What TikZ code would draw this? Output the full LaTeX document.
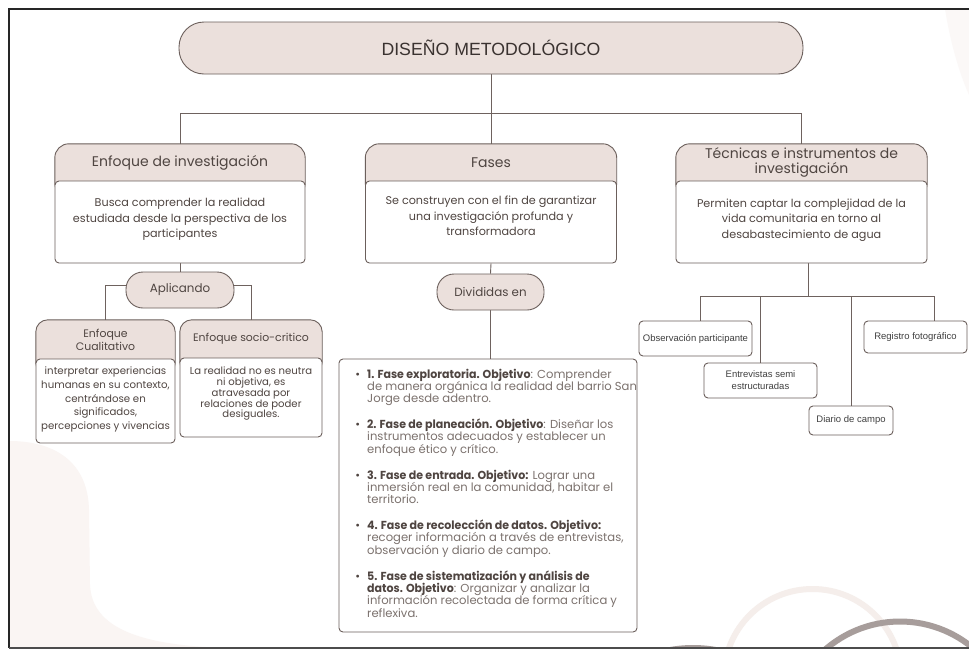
\documentclass[tikz,border=0pt]{standalone}
\usepackage{fontspec}
\setmainfont{Poppins}[BoldFeatures={FakeStretch=0.95}]
\newfontfamily\arialf{Liberation Sans}
\usetikzlibrary{backgrounds}
\definecolor{hdrfill}{HTML}{EBE0DC}
\definecolor{linec}{HTML}{6E625E}
\definecolor{boxc}{HTML}{6B5F5B}
\definecolor{txt}{HTML}{4F4541}
\definecolor{txtlight}{HTML}{7C726E}
\definecolor{titlec}{HTML}{3A3230}
\definecolor{blobc}{HTML}{FAF5F3}
\definecolor{arclight}{HTML}{F5EEEB}
\definecolor{arcdark}{HTML}{A79D9B}
\newcommand\hdrf{\fontsize{14}{15}\selectfont}
\newcommand\bodyf{\fontsize{11.2}{15.5}\selectfont}
\newcommand\pillf{\fontsize{11.9}{13}\selectfont}
\newcommand\shdrf{\fontsize{10.9}{12.8}\selectfont}
\newcommand\sbodyf{\fontsize{10.2}{13.75}\selectfont}
\newcommand\sbodyfb{\fontsize{10.1}{10.75}\selectfont}
\newcommand\bo[1]{{\bfseries\color{txt}#1}}
\begin{document}
\begin{tikzpicture}[x=1pt,y=-1pt,
  conn/.style={draw=linec, line width=0.9pt},
  hbox/.style={inner sep=0pt, text=txt, align=center, font=\hdrf},
  bodybox/.style={draw=boxc, fill=white, line width=0.9pt, rounded corners=4pt, inner sep=0pt},
  cardshape/.style={draw=boxc, fill=hdrfill, line width=0.9pt},
  btext/.style={inner sep=0pt, text=txt, align=center, font=\bodyf},
  pill/.style={draw=boxc, fill=hdrfill, line width=0.9pt, rounded corners=17pt, inner sep=0pt, text=txt, font=\pillf},
  smallbox/.style={draw=boxc, fill=white, line width=0.9pt, rounded corners=4pt, inner sep=0pt, font=\arialf\fontsize{9.5}{12}\selectfont, text=black!75, align=center},
  listitem/.style={inner sep=0pt, anchor=base west, align=left, text=txtlight, font=\fontsize{11.6}{12.4}\selectfont}
]
\useasboundingbox (0,0) rectangle (969,651);

\begin{pgfonlayer}{background}
  \fill[white] (0,0) rectangle (969,651);
  \begin{scope}
    \clip (9,9) rectangle (969,647);
    \fill[blobc] (9,441) .. controls (55,441) and (88,462) .. (89,510) -- (90,585) .. controls (92,628) and (140,646) .. (230,648) -- (9,648) -- cycle;
    \fill[blobc!70!white] (945,9) .. controls (950,40) and (958,70) .. (969,95) -- (969,9) -- cycle;
    \draw[arclight, line width=6pt] (812.5,677.6) circle[radius=88.6];
    \draw[arcdark, line width=6pt] (900,735.3) circle[radius=113.8];
    \draw[arcdark, line width=5pt] (693,777.5) circle[radius=130];
  \end{scope}
\end{pgfonlayer}

% title
\node[pill, rounded corners=25pt, minimum width=624, minimum height=52, font=\arialf\fontsize{17.7}{20}\selectfont, text=titlec] (title) at (491,48) {DISEÑO METODOLÓGICO};

% Enfoque de investigacion
\node[hbox, minimum width=250, minimum height=37] (eh) at (180,162.5) {Enfoque de investigación};
\node[bodybox, minimum width=250, minimum height=82] (eb) at (180,222) {};
\node[btext] (ebt) at (180,219.5) {Busca comprender la realidad\\estudiada desde la perspectiva de los\\participantes};

% Fases
\node[hbox, minimum width=251, minimum height=37] (fh) at (491,162.5) {Fases};
\node[bodybox, minimum width=251, minimum height=82] (fb) at (491,222) {};
\node[btext] (fbt) at (491,216) {Se construyen con el fin de garantizar\\una investigación profunda y\\transformadora};

% Tecnicas
\node[hbox, minimum width=251, minimum height=37] (th) at (801.5,162.5) {Técnicas e instrumentos de\\investigación};
\node[bodybox, minimum width=251, minimum height=82] (tb) at (801.5,222) {};
\node[btext] (tbt) at (801.5,220) {Permiten captar la complejidad de la\\vida comunitaria en torno al\\desabastecimiento de agua};

% Aplicando branch
\node[pill, minimum width=108, minimum height=36] (apl) at (180,290) {Aplicando};
\node[hbox, font=\shdrf, minimum width=139, minimum height=39] (cual) at (105.5,339.5) {Enfoque\\Cualitativo};
\node[bodybox, minimum width=139, minimum height=84] (cualb) at (105.5,401) {};
\node[btext, font=\sbodyf] (cualt) at (105.5,399.5) {interpretar experiencias\\humanas en su contexto,\\centrándose en\\significados,\\percepciones y vivencias};
\node[hbox, font=\shdrf, minimum width=142, minimum height=38] (soc) at (251,339) {Enfoque socio-critico};
\node[bodybox, minimum width=142, minimum height=79] (socb) at (251,397.5) {};
\node[btext, font=\sbodyfb] (soct) at (251,394) {La realidad no es neutra\\ni objetiva, es\\atravesada por\\relaciones de poder\\desiguales.};

% Divididas en
\node[pill, minimum width=107, minimum height=36] (div) at (490.5,292) {Divididas en};
\node[bodybox, minimum width=298, minimum height=273] (list) at (488,495.5) {};
\node[listitem] (i1) at (367,402.8) {\llap{\color{txt}\textbullet\hspace{7pt}}\bo{1. Fase exploratoria. Objetivo}: Comprender\\de manera orgánica la realidad del barrio San\\Jorge desde adentro.};
\node[listitem] (i2) at (367,453.3) {\llap{\color{txt}\textbullet\hspace{7pt}}\bo{2. Fase de planeación. Objetivo}: Diseñar los\\instrumentos adecuados y establecer un\\enfoque ético y crítico.};
\node[listitem] (i3) at (367,503.8) {\llap{\color{txt}\textbullet\hspace{7pt}}\bo{3. Fase de entrada. Objetivo:} Lograr una\\inmersión real en la comunidad, habitar el\\territorio.};
\node[listitem] (i4) at (367,554.3) {\llap{\color{txt}\textbullet\hspace{7pt}}\bo{4. Fase de recolección de datos. Objetivo:}\\recoger información a través de entrevistas,\\observación y diario de campo.};
\node[listitem] (i5) at (367,617.2) {\llap{\color{txt}\textbullet\hspace{7pt}}\bo{5. Fase de sistematización y análisis de}\\\bo{datos. Objetivo}: Organizar y analizar la\\información recolectada de forma crítica y\\reflexiva.};

% tecnicas leaves
\node[smallbox, minimum width=113, minimum height=35] (obs) at (695.5,338.5) {Observación participante};
\node[smallbox, minimum width=113, minimum height=35] (ent) at (760.5,380.5) {Entrevistas semi\\estructuradas};
\node[smallbox, minimum width=84, minimum height=29] (dia) at (851,420.5) {Diario de campo};
\node[smallbox, minimum width=103, minimum height=32] (reg) at (915.5,337) {Registro fotográfico};

\begin{pgfonlayer}{background}
  \draw[cardshape, rounded corners=14pt] (eh.north west) rectangle ([yshift=-16pt]eh.south east);
  \draw[cardshape, rounded corners=14pt] (fh.north west) rectangle ([yshift=-16pt]fh.south east);
  \draw[cardshape, rounded corners=14pt] (th.north west) rectangle ([yshift=-16pt]th.south east);
  \draw[cardshape, rounded corners=12pt] (cual.north west) rectangle ([yshift=-16pt]cual.south east);
  \draw[cardshape, rounded corners=12pt] (soc.north west) rectangle ([yshift=-16pt]soc.south east);
  \draw[conn] (title.south) -- (fh.north);
  \draw[conn] (eh.north) -- ++(0,-30) -| (th.north);
  \draw[conn] (eb.south) -- (apl.north);
  \draw[conn] (cual.north) -- ++(0,-34) -| (soc.north);
  \draw[conn] (fb.south) -- (div.north);
  \draw[conn] (div.south) -- (div.south |- list.north);
  \draw[conn] ([xshift=7pt]tb.south) -- ++(0,34);
  \draw[conn] ([xshift=4.5pt]obs.north) -- ++(0,-24) -| ([xshift=18.5pt]reg.north);
  \draw[conn] (ent.north) -- ++(0,-66);
  \draw[conn] (dia.north) -- ++(0,-109);
\end{pgfonlayer}

% frame
\draw[black!85, line width=1.2pt] (969,9) -- (9,9) -- (9,648);
\draw[black!70, line width=2pt] (9,648) -- (969,648);
\end{tikzpicture}
\end{document}
